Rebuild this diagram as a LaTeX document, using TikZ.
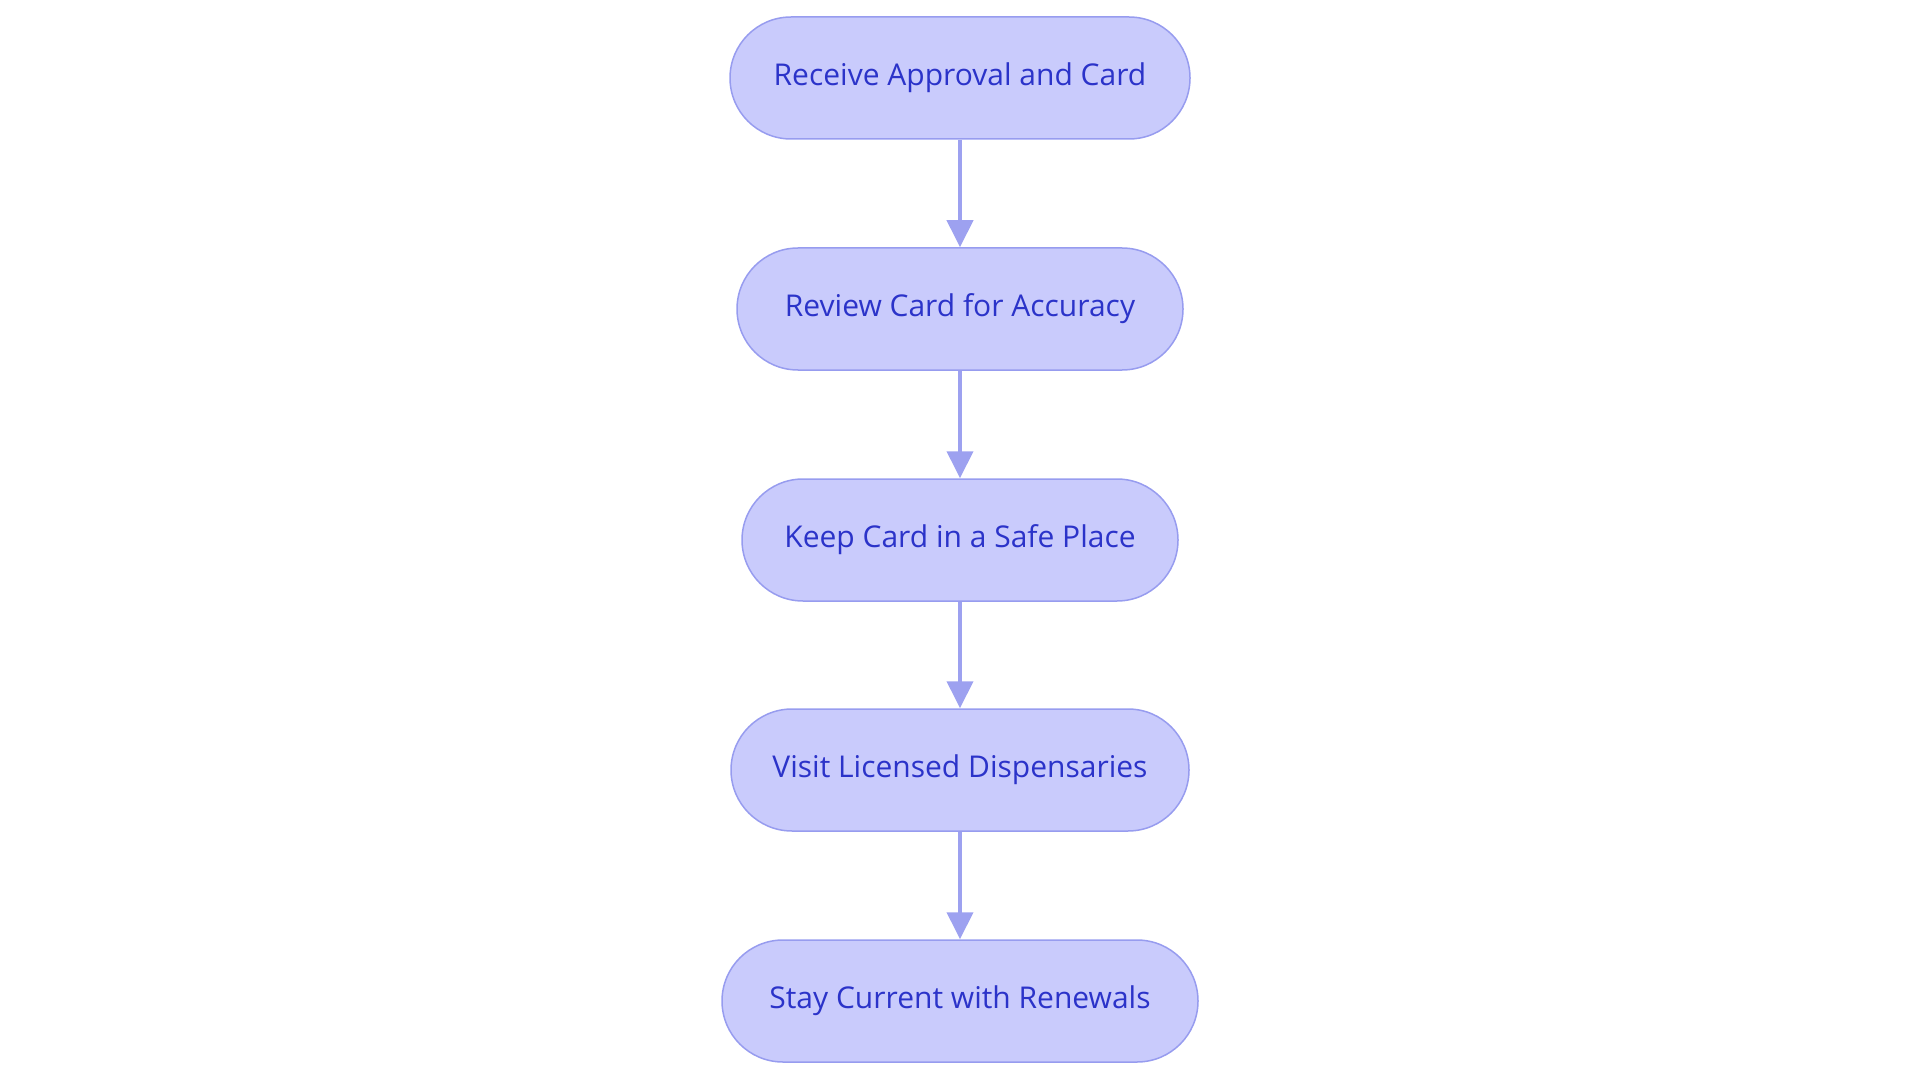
\documentclass[tikz,border=0pt]{standalone}
\usepackage{fontspec}
\setmainfont{Open Sans}
\usetikzlibrary{arrows.meta}
\definecolor{boxfill}{HTML}{C9CBFC}
\definecolor{boxline}{HTML}{979CEF}
\definecolor{boxtext}{HTML}{2B33C9}
\definecolor{arrowcol}{HTML}{9DA1F0}
\tikzset{
  stepbox/.style={draw=boxline, fill=boxfill, line width=1.5pt, rounded corners=61pt,
    minimum height=122pt, inner sep=0pt, text=boxtext,
    font=\fontsize{30}{36}\selectfont},
  flowarrow/.style={draw=arrowcol, line width=4pt, -{Triangle[width=26pt,length=27pt]}, shorten >=0pt}
}
\begin{document}
\begin{tikzpicture}[x=1pt,y=-1pt]
\useasboundingbox (0,0) rectangle (1920,1083);
\node[stepbox, minimum width=460pt] (a) at (960,78) {Receive Approval and Card};
\node[stepbox, minimum width=446pt] (b) at (960,309) {Review Card for Accuracy};
\node[stepbox, minimum width=436pt] (c) at (960,540) {Keep Card in a Safe Place};
\node[stepbox, minimum width=458pt] (d) at (960,770) {Visit Licensed Dispensaries};
\node[stepbox, minimum width=476pt] (e) at (960,1001) {Stay Current with Renewals};
\draw[flowarrow] (a) -- (b);
\draw[flowarrow] (b) -- (c);
\draw[flowarrow] (c) -- (d);
\draw[flowarrow] (d) -- (e);
\end{tikzpicture}
\end{document}
